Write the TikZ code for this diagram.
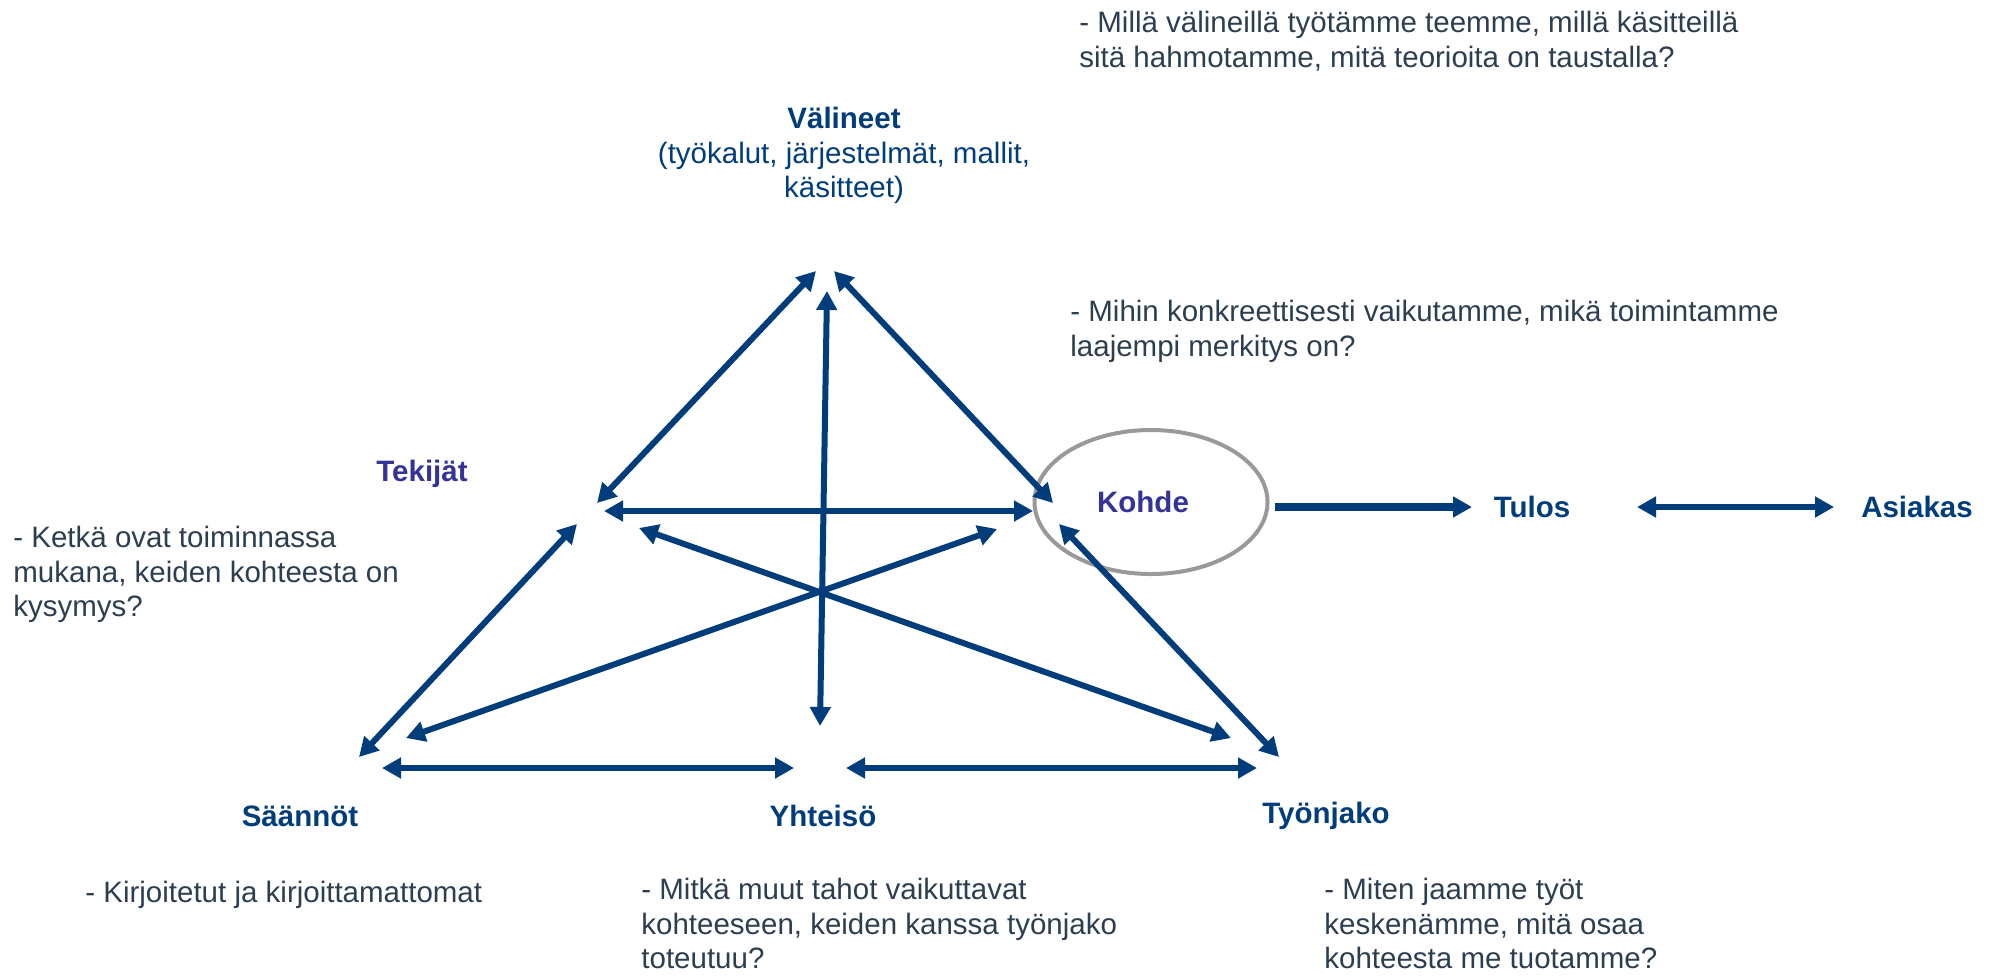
\documentclass[tikz,border=0pt]{standalone}
\usepackage{fontspec}
\setmainfont{Liberation Sans}
\usepackage{tikz}
\usetikzlibrary{arrows.meta,shapes}
\definecolor{darkblue}{RGB}{0,61,122}
\definecolor{actorblue}{RGB}{51,51,153}
\definecolor{questgray}{RGB}{44,62,80}
\definecolor{ringgray}{RGB}{153,153,153}
\newcommand{\diagfont}{\fontsize{14.75pt}{17.25pt}\selectfont}
\tikzstyle{corner} = [text=darkblue, font=\diagfont\bfseries, inner sep=0pt]
\tikzstyle{focus} = [text=actorblue, font=\diagfont\bfseries, inner sep=0pt]
\tikzstyle{question} = [text=questgray, font=\diagfont, align=left, anchor=north west, inner sep=0pt]
\tikzstyle{point} = [coordinate]
\tikzstyle{link} = [draw=darkblue, line width=3pt]

\begin{document}
\begin{tikzpicture}[x=0.5pt, y=-0.5pt, >={Triangle[length=9.5pt,width=10pt]}]
\useasboundingbox (0,0) rectangle (1991,976);
% Nodes
	\node [point] (vL) at (816,271) {};
	\node [point] (vM) at (827,291) {};
	\node [point] (vR) at (834,271) {};
	\node [point] (tV) at (597,503) {};
	\node [point] (tK) at (604,511) {};
	\node [point] (tS) at (577,524) {};
	\node [point] (tY) at (639,528) {};
	\node [point] (kV) at (1053,503) {};
	\node [point] (kT) at (1033,511) {};
	\node [point] (kS) at (997,529) {};
	\node [point] (kY) at (1059,524) {};
	\node [point] (sT) at (359,757) {};
	\node [point] (sK) at (406,738) {};
	\node [point] (sY) at (382,768) {};
	\node [point] (yV) at (820,726) {};
	\node [point] (yS) at (794,768) {};
	\node [point] (yJ) at (846,768) {};
	\node [point] (jT) at (1231,738) {};
	\node [point] (jK) at (1279,757) {};
	\node [point] (jY) at (1257,768) {};
	\node [ellipse, draw=ringgray, line width=2pt, minimum width=116.5pt, minimum height=72pt] (kohde) at (1151,502) {};
	\node [point] (kout) at (1275,507) {};
	\node [point] (tin) at (1472,507) {};
	\node [point] (tout) at (1637,507) {};
	\node [point] (ain) at (1834,507) {};
% Connections
	\draw [link, <->] (tV) -- (vL);
	\draw [link, <->] (yV) -- (vM);
	\draw [link, <->] (kV) -- (vR);
	\draw [link, <->] (tK) -- (kT);
	\draw [link, <->] (sT) -- (tS);
	\draw [link, <->] (tY) -- (jT);
	\draw [link, <->] (sK) -- (kS);
	\draw [link, <->] (kY) -- (jK);
	\draw [link, <->] (sY) -- (yS);
	\draw [link, <->] (yJ) -- (jY);
	\draw [link, ->, line width=3.6pt] (kout) -- (tin);
	\draw [link, <->, line width=3.4pt] (tout) -- (ain);
% Notations
	\node [text=darkblue, font=\diagfont, align=center, anchor=north, inner sep=0pt] (valineet) at (844,107)
		{\textbf{Välineet}\\(työkalut, järjestelmät, mallit,\\käsitteet)};
	\node [focus] (tekijat) at (422,474) {Tekijät};
	\node [focus] (kohdetext) at (1143,502) {Kohde};
	\node [corner] (saannot) at (300,816) {Säännöt};
	\node [corner] (yhteiso) at (823,816) {Yhteisö};
	\node [corner] (tyonjako) at (1326,816) {Työnjako};
	\node [corner, right of=tin, node distance=30pt] (tulos) {Tulos};
	\node [corner, right of=ain, node distance=41.5pt] (asiakas) {Asiakas};
	\node [question] (qvalineet) at (1079,11)
		{- Millä välineillä työtämme teemme, millä käsitteillä\\sitä hahmotamme, mitä teorioita on taustalla?};
	\node [question] (qkohde) at (1070,300)
		{- Mihin konkreettisesti vaikutamme, mikä toimintamme\\laajempi merkitys on?};
	\node [question] (qtekijat) at (13,526)
		{- Ketkä ovat toiminnassa\\mukana, keiden kohteesta on\\kysymys?};
	\node [question] (qsaannot) at (85,881) {- Kirjoitetut ja kirjoittamattomat};
	\node [question] (qyhteiso) at (641,878)
		{- Mitkä muut tahot vaikuttavat\\kohteeseen, keiden kanssa työnjako\\toteutuu?};
	\node [question] (qtyonjako) at (1324,878)
		{- Miten jaamme työt\\keskenämme, mitä osaa\\kohteesta me tuotamme?};
\end{tikzpicture}
\end{document}
